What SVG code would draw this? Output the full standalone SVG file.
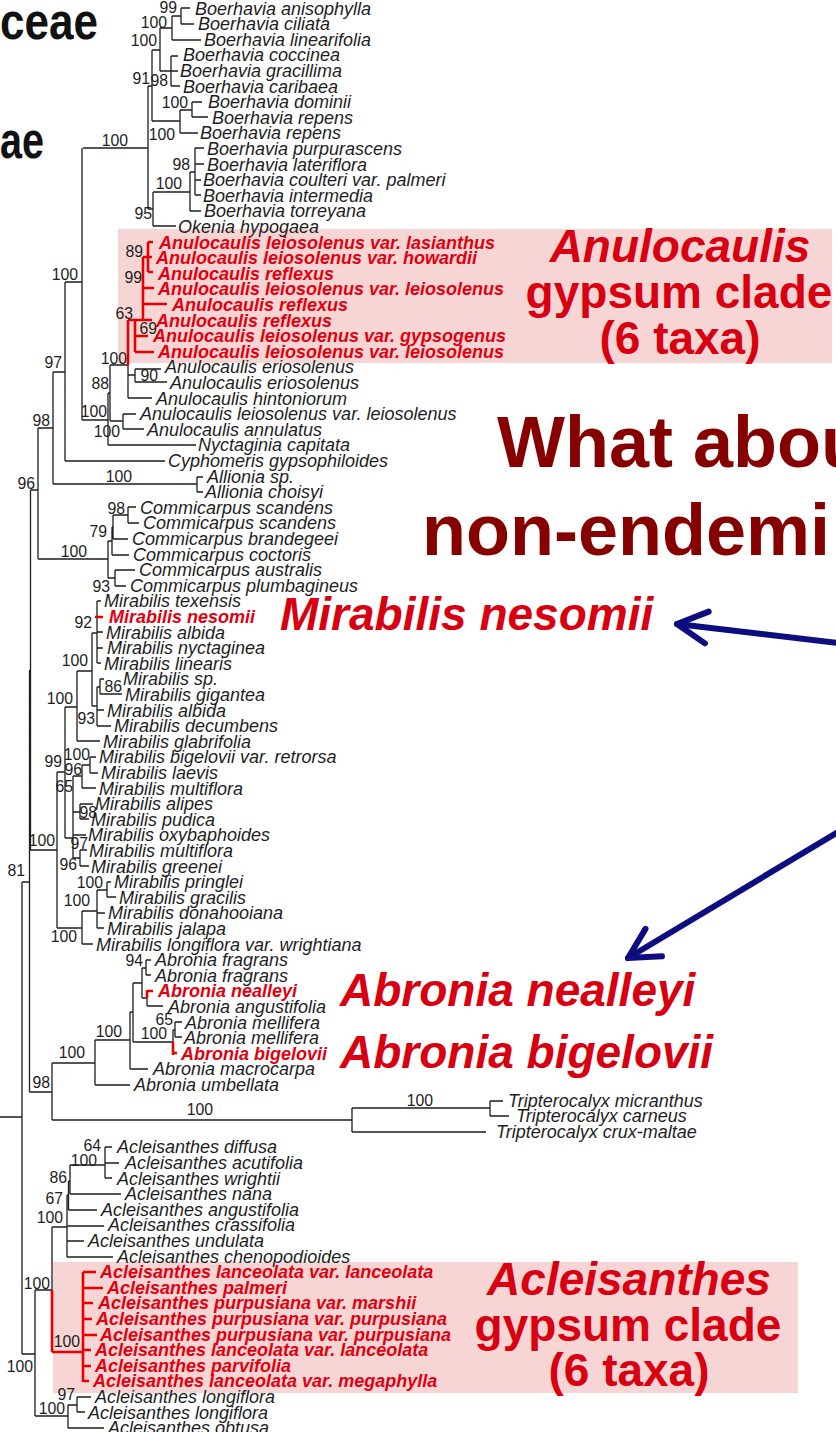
<svg xmlns="http://www.w3.org/2000/svg" width="836" height="1432" viewBox="0 0 836 1432">
<style>
.t{font-family:"Liberation Sans",Arial,sans-serif;font-size:18px;font-style:italic;fill:#1e1e1e}
.tr{font-family:"Liberation Sans",Arial,sans-serif;font-size:18px;font-style:italic;font-weight:bold;fill:#e1000f}
.b{font-family:"Liberation Sans",Arial,sans-serif;font-size:15.8px;fill:#1e1e1e;text-anchor:end}
.big{font-family:"Liberation Sans",Arial,sans-serif;font-size:46px;font-weight:bold;fill:#d80010}
.bigi{font-family:"Liberation Sans",Arial,sans-serif;font-size:46px;font-weight:bold;font-style:italic;fill:#d80010}
.ttl{font-family:"Liberation Sans",Arial,sans-serif;font-size:72px;font-weight:bold;fill:#870000}
.hd{font-family:"Liberation Sans",Arial,sans-serif;font-size:52px;font-weight:bold;fill:#111}
.br{fill:none;stroke:#1e1e1e;stroke-width:1.3}
.brr{fill:none;stroke:#e60000;stroke-width:2.6}
.arr{fill:none;stroke:#0d0d80;stroke-width:6;stroke-linecap:round;stroke-linejoin:round}
.box{fill:#f7d5d5}
</style>
<defs>
<marker id="vhead" markerUnits="userSpaceOnUse" orient="auto" overflow="visible" refX="0" refY="0" markerWidth="1" markerHeight="1">
<path d="M-30,-16 L0,0 L-30,16" fill="none" stroke="#0d0d80" stroke-width="6" stroke-linecap="round" stroke-linejoin="round"/>
</marker>
</defs>
<rect width="836" height="1432" fill="#ffffff"/>

<g id="highlight-boxes">
<rect id="box-anulocaulis" class="box" x="118" y="229" width="714" height="134"/>
<rect id="box-acleisanthes" class="box" x="53" y="1262" width="745" height="131"/>
</g>

<g id="header-fragments">
<text class="hd" x="0" y="39" textLength="98" lengthAdjust="spacingAndGlyphs">ceae</text>
<text class="hd" x="0" y="158" textLength="44" lengthAdjust="spacingAndGlyphs">ae</text>
</g>

<g id="connectors">
<path class="br" d="M181 8V24M181 8H190M181 24H194M172 16H181M172 16V40M172 40H201M160 28H172M160 28V71M160 71H178M171 56V86M171 56H178M171 86H180M152 50H160M152 50V121M192 102V117M192 102H202M192 117H208M180 110H192M180 110V133M180 133H198M152 121H180M148 86H152M148 86V209M195 148V195M195 148H204M195 164H204M195 180H201M195 195H201M190 172H195M190 172V211M190 211H201M153 192H190M153 192V226M153 226H176M148 209H153M83 148H148
M82 148V420M82 420H108M108 393V445M108 445H196M108 393H110M110 365V421M110 365H128M128 365V398M128 375H135M135 369V382M135 369H161M135 382H167M128 398H152M110 421H123M123 414V429M123 414H136M123 429H144
M65 282H82M65 282V461M65 461H165M53 372H65M53 372V484M53 484H197M197 477V492M197 477H203M197 492H203M38 428H53M38 428V559M38 559H108
M108 541V578M108 541H112M112 527V555M112 555H129M112 527H113M113 515V539M113 539H128M113 515H128M128 507V523M128 507H136M128 523H139M108 578H115M115 570V586M115 570H135M115 586H126
M30.5 490H38M30.5 490V850
M30 850H57M57 772V928M57 772H65M65 707V838M57 928H82M82 911V944M82 944H93M82 911H97M97 890V928M97 890H107M107 882V897M107 882H111M107 897H116M97 913H105M97 928H104
M65 707H77M77 671V741M77 741H100M77 671H92M92 633V706M92 633H97M97 601V663M97 601H101M97 632H103M97 648H103M97 663H101M92 706H97M97 687V726M97 687H100M100 679V694M100 679H104M100 694H122M97 710H104M97 726H111
M65 838H73M73 776V858M73 776H82M82 765V788M82 765H90M90 757V773M90 757H96M90 773H98M82 788H96M73 812H80M80 804V819M80 804H93M80 819H89M73 835H86M73 858H80M80 850V866M80 850H87M80 866H89
M29.5 670V1092M22 882H30
M29.5 1092H52M52 1063V1120M52 1063H95M52 1120H352M95 1040V1085M95 1085H130M95 1040H130M130 1012V1069M130 1069H148M130 1012H133M133 983V1042M133 983H142M142 968V998M142 968H146M146 960V975M146 960H151M146 975H151M142 998H147M147 998V1006M147 1006H163M133 1042H173M173 1030V1042M173 1030H175M175 1022V1037M175 1022H182M175 1037H182
M352 1108V1132M352 1108H490M490 1101V1116M490 1101H503M490 1116H509M352 1132H486
M22 882V1354M0 1117H22M22 1354H35
M35 1290V1416M35 1290H52M52 1227V1290M52 1227H67M67 1195V1257M67 1226H104M67 1241H84M67 1257H113M67 1195H68.5M68.5 1181V1210M68.5 1210H97M68.5 1181H70M70 1165V1194M70 1194H121M70 1165H105M105 1147V1178M105 1147H112M105 1163H119M105 1178H112
M35 1416H68M68 1405V1428M68 1405H77M77 1397V1412M77 1397H91M77 1412H85M68 1428H104"/>
<path class="brr" d="M148 242V272M148 242H153M148 257H152M148 272H153M143 257H148M143 257V320M143 288H154M143 304H167M128 320H152M128 320V365M135 320V352M135 336H148M135 352H154
M95 617H103
M147 990V998M147 991H153
M173 1042V1055M173 1053H177
M52 1290V1352M52 1352H83M83 1272V1382M83 1272H96M83 1288H103M83 1303H93M83 1319H92M83 1335H97M83 1350H91M83 1366H91M83 1381H89"/>
<path id="arrow-nesomii" class="arr" d="M838 643L677 624" marker-end="url(#vhead)"/>
<path id="arrow-abronia" class="arr" d="M838 832L628 958" marker-end="url(#vhead)"/>
</g>

<g id="support-values">
<text class="b" x="177" y="13">99</text>
<text class="b" x="167" y="28">100</text>
<text class="b" x="157" y="46">100</text>
<text class="b" x="150" y="84">91</text>
<text class="b" x="168" y="86">98</text>
<text class="b" x="188" y="108">100</text>
<text class="b" x="175" y="140">100</text>
<text class="b" x="128" y="146">100</text>
<text class="b" x="190" y="170">98</text>
<text class="b" x="182" y="189">100</text>
<text class="b" x="152" y="219">95</text>
<text class="b" x="143" y="257">89</text>
<text class="b" x="142" y="283">99</text>
<text class="b" x="133" y="319">63</text>
<text class="b" x="157" y="334">69</text>
<text class="b" x="127" y="364">100</text>
<text class="b" x="158" y="381">90</text>
<text class="b" x="109" y="389">88</text>
<text class="b" x="107" y="417">100</text>
<text class="b" x="120" y="437">100</text>
<text class="b" x="78" y="280">100</text>
<text class="b" x="62" y="368">97</text>
<text class="b" x="50" y="426">98</text>
<text class="b" x="132" y="482">100</text>
<text class="b" x="35" y="489">96</text>
<text class="b" x="125" y="514">98</text>
<text class="b" x="107" y="537">79</text>
<text class="b" x="87" y="557">100</text>
<text class="b" x="110" y="592">93</text>
<text class="b" x="92" y="628">92</text>
<text class="b" x="88" y="666">100</text>
<text class="b" x="122" y="692">86</text>
<text class="b" x="73" y="704">100</text>
<text class="b" x="95" y="724">93</text>
<text class="b" x="90" y="760">100</text>
<text class="b" x="62" y="767">99</text>
<text class="b" x="82" y="775">96</text>
<text class="b" x="73" y="792">65</text>
<text class="b" x="97" y="818">98</text>
<text class="b" x="88" y="849">97</text>
<text class="b" x="55" y="846">100</text>
<text class="b" x="77" y="870">96</text>
<text class="b" x="25" y="876">81</text>
<text class="b" x="103" y="888">100</text>
<text class="b" x="90" y="906">100</text>
<text class="b" x="77" y="942">100</text>
<text class="b" x="143" y="966">94</text>
<text class="b" x="173" y="1025">65</text>
<text class="b" x="167" y="1039">100</text>
<text class="b" x="122" y="1037">100</text>
<text class="b" x="85" y="1058">100</text>
<text class="b" x="50" y="1088">98</text>
<text class="b" x="213" y="1115">100</text>
<text class="b" x="433" y="1106">100</text>
<text class="b" x="101" y="1151">64</text>
<text class="b" x="97" y="1166">100</text>
<text class="b" x="67" y="1183">86</text>
<text class="b" x="63" y="1204">67</text>
<text class="b" x="63" y="1223">100</text>
<text class="b" x="50" y="1289">100</text>
<text class="b" x="80" y="1347">100</text>
<text class="b" x="33" y="1372">100</text>
<text class="b" x="75" y="1400">97</text>
<text class="b" x="65" y="1414">100</text>
</g>

<g id="taxa-boerhavia">
<text class="t" x="195" y="14.5">Boerhavia anisophylla</text>
<text class="t" x="198" y="30.1">Boerhavia ciliata</text>
<text class="t" x="204" y="45.7">Boerhavia linearifolia</text>
<text class="t" x="183" y="61.3">Boerhavia coccinea</text>
<text class="t" x="180" y="76.9">Boerhavia gracillima</text>
<text class="t" x="183" y="92.5">Boerhavia caribaea</text>
<text class="t" x="208" y="108.1">Boerhavia dominii</text>
<text class="t" x="212" y="123.7">Boerhavia repens</text>
<text class="t" x="200" y="139.3">Boerhavia repens</text>
<text class="t" x="207" y="154.9">Boerhavia purpurascens</text>
<text class="t" x="207" y="170.5">Boerhavia lateriflora</text>
<text class="t" x="203" y="186.1">Boerhavia coulteri var. palmeri</text>
<text class="t" x="203" y="201.7">Boerhavia intermedia</text>
<text class="t" x="204" y="217.3">Boerhavia torreyana</text>
<text class="t" x="178" y="232.9">Okenia hypogaea</text>
</g>

<g id="taxa-anulocaulis">
<text class="tr" x="159" y="248.5">Anulocaulis leiosolenus var. lasianthus</text>
<text class="tr" x="156" y="264.1">Anulocaulis leiosolenus var. howardii</text>
<text class="tr" x="158" y="279.7">Anulocaulis reflexus</text>
<text class="tr" x="158" y="295.3">Anulocaulis leiosolenus var. leiosolenus</text>
<text class="tr" x="172" y="310.9">Anulocaulis reflexus</text>
<text class="tr" x="156" y="326.5">Anulocaulis reflexus</text>
<text class="tr" x="153" y="342.1">Anulocaulis leiosolenus var. gypsogenus</text>
<text class="tr" x="158" y="357.7">Anulocaulis leiosolenus var. leiosolenus</text>
<text class="t" x="165" y="373.3">Anulocaulis eriosolenus</text>
<text class="t" x="170" y="388.9">Anulocaulis eriosolenus</text>
<text class="t" x="156" y="404.5">Anulocaulis hintoniorum</text>
<text class="t" x="140" y="420.1">Anulocaulis leiosolenus var. leiosolenus</text>
<text class="t" x="147" y="435.7">Anulocaulis annulatus</text>
<text class="t" x="198" y="451.3">Nyctaginia capitata</text>
<text class="t" x="168" y="466.9">Cyphomeris gypsophiloides</text>
<text class="t" x="207" y="482.5">Allionia sp.</text>
<text class="t" x="205" y="498.1">Allionia choisyi</text>
</g>

<g id="taxa-commicarpus">
<text class="t" x="140" y="513.7">Commicarpus scandens</text>
<text class="t" x="143" y="529.3">Commicarpus scandens</text>
<text class="t" x="132" y="544.9">Commicarpus brandegeei</text>
<text class="t" x="133" y="560.5">Commicarpus coctoris</text>
<text class="t" x="139" y="576.1">Commicarpus australis</text>
<text class="t" x="130" y="591.7">Commicarpus plumbagineus</text>
</g>

<g id="taxa-mirabilis">
<text class="t" x="104" y="607.3">Mirabilis texensis</text>
<text class="tr" x="109" y="622.9">Mirabilis nesomii</text>
<text class="t" x="106" y="638.5">Mirabilis albida</text>
<text class="t" x="107" y="654.1">Mirabilis nyctaginea</text>
<text class="t" x="104" y="669.7">Mirabilis linearis</text>
<text class="t" x="123" y="685.3">Mirabilis sp.</text>
<text class="t" x="125" y="700.9">Mirabilis gigantea</text>
<text class="t" x="107" y="716.5">Mirabilis albida</text>
<text class="t" x="114" y="732.1">Mirabilis decumbens</text>
<text class="t" x="103" y="747.7">Mirabilis glabrifolia</text>
<text class="t" x="99" y="763.3">Mirabilis bigelovii var. retrorsa</text>
<text class="t" x="101" y="778.9">Mirabilis laevis</text>
<text class="t" x="99" y="794.5">Mirabilis multiflora</text>
<text class="t" x="95" y="810.1">Mirabilis alipes</text>
<text class="t" x="91" y="825.7">Mirabilis pudica</text>
<text class="t" x="88" y="841.3">Mirabilis oxybaphoides</text>
<text class="t" x="89" y="856.9">Mirabilis multiflora</text>
<text class="t" x="91" y="872.5">Mirabilis greenei</text>
<text class="t" x="114" y="888.1">Mirabilis pringlei</text>
<text class="t" x="119" y="903.7">Mirabilis gracilis</text>
<text class="t" x="108" y="919.3">Mirabilis donahooiana</text>
<text class="t" x="107" y="934.9">Mirabilis jalapa</text>
<text class="t" x="96" y="950.5">Mirabilis longiflora var. wrightiana</text>
</g>

<g id="taxa-abronia">
<text class="t" x="155" y="966.1">Abronia fragrans</text>
<text class="t" x="155" y="981.7">Abronia fragrans</text>
<text class="tr" x="158" y="997.3">Abronia nealleyi</text>
<text class="t" x="168" y="1012.9">Abronia angustifolia</text>
<text class="t" x="185" y="1028.5">Abronia mellifera</text>
<text class="t" x="184" y="1044.1">Abronia mellifera</text>
<text class="tr" x="181" y="1059.7">Abronia bigelovii</text>
<text class="t" x="153" y="1075.3">Abronia macrocarpa</text>
<text class="t" x="134" y="1090.9">Abronia umbellata</text>
</g>

<g id="taxa-tripterocalyx">
<text class="t" x="508" y="1106.5">Tripterocalyx micranthus</text>
<text class="t" x="516" y="1122.1">Tripterocalyx carneus</text>
<text class="t" x="496" y="1137.7">Tripterocalyx crux-maltae</text>
</g>

<g id="taxa-acleisanthes">
<text class="t" x="117" y="1153.3">Acleisanthes diffusa</text>
<text class="t" x="125" y="1168.9">Acleisanthes acutifolia</text>
<text class="t" x="117" y="1184.5">Acleisanthes wrightii</text>
<text class="t" x="125" y="1200.1">Acleisanthes nana</text>
<text class="t" x="101" y="1215.7">Acleisanthes angustifolia</text>
<text class="t" x="108" y="1231.3">Acleisanthes crassifolia</text>
<text class="t" x="88" y="1246.9">Acleisanthes undulata</text>
<text class="t" x="117" y="1262.5">Acleisanthes chenopodioides</text>
<text class="tr" x="100" y="1278.1">Acleisanthes lanceolata var. lanceolata</text>
<text class="tr" x="107" y="1293.7">Acleisanthes palmeri</text>
<text class="tr" x="98" y="1309.3">Acleisanthes purpusiana var. marshii</text>
<text class="tr" x="96" y="1324.9">Acleisanthes purpusiana var. purpusiana</text>
<text class="tr" x="100" y="1340.5">Acleisanthes purpusiana var. purpusiana</text>
<text class="tr" x="95" y="1356.1">Acleisanthes lanceolata var. lanceolata</text>
<text class="tr" x="95" y="1371.7">Acleisanthes parvifolia</text>
<text class="tr" x="93" y="1387.3">Acleisanthes lanceolata var. megaphylla</text>
<text class="t" x="95" y="1402.9">Acleisanthes longiflora</text>
<text class="t" x="88" y="1418.5">Acleisanthes longiflora</text>
<text class="t" x="108" y="1434.1">Acleisanthes obtusa</text>
</g>

<g id="label-anulocaulis-clade">
<text class="bigi" x="680" y="262" text-anchor="middle">Anulocaulis</text>
<text class="big" x="679" y="308" text-anchor="middle">gypsum clade</text>
<text class="big" x="680" y="354" text-anchor="middle">(6 taxa)</text>
</g>

<g id="title">
<text class="ttl" x="497" y="467">What abou</text>
<text class="ttl" x="422" y="555">non-endemi</text>
</g>

<g id="label-mirabilis-nesomii">
<text class="bigi" x="280" y="630">Mirabilis nesomii</text>
</g>

<g id="label-abronia">
<text class="bigi" x="340" y="1006">Abronia nealleyi</text>
<text class="bigi" x="340" y="1068">Abronia bigelovii</text>
</g>

<g id="label-acleisanthes-clade">
<text class="bigi" x="629" y="1295" text-anchor="middle">Acleisanthes</text>
<text class="big" x="628" y="1341" text-anchor="middle">gypsum clade</text>
<text class="big" x="629" y="1386" text-anchor="middle">(6 taxa)</text>
</g>
</svg>
